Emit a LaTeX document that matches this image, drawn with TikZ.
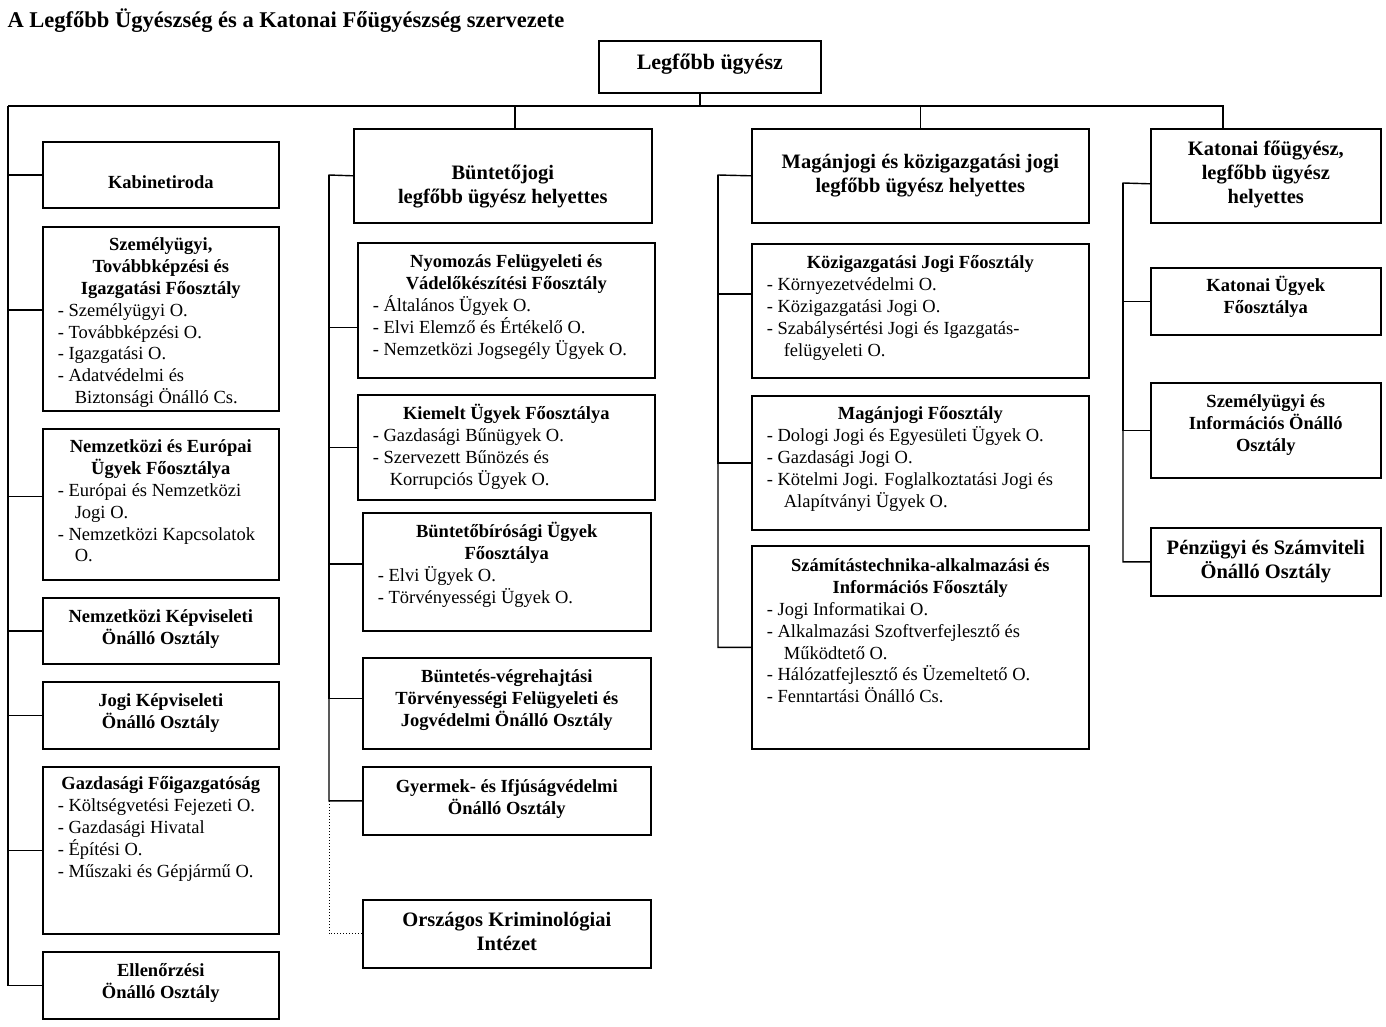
\documentclass[tikz,border=0pt]{standalone}
\usepackage{fontspec}
\setmainfont{Liberation Serif}

\tikzstyle{szerv-alap}=[rectangle,
                        draw=black,
                        line width=1.6pt,
                        inner sep=0pt,
                        anchor=north west,
                        font=\fontsize{18.5}{21.8}\selectfont
                       ]
\tikzstyle{nagy}=[szerv-alap,
                  font=\fontsize{20.5}{24}\selectfont]
\tikzstyle{vonal}=[line width=1.4pt]

\newcommand{\doboz}[3]{\parbox[c][#2pt][t]{#1pt}{\parskip=0pt #3}}
\newcommand{\fej}[2][25pt]{{\centering\bfseries\rule{0pt}{#1}#2\par}}
\newcommand{\lista}[1]{{\raggedright\leftskip=15pt #1\par}}
\newcommand{\foly}{\hspace*{17pt}}

\begin{document}
\begin{tikzpicture}[x=1pt, y=-1pt]
\useasboundingbox (0,0) rectangle (1386,1026);

\node at (4, 27) (cim) [anchor=base west, font=\fontsize{22.5}{26}\selectfont\bfseries] {A Legfőbb Ügyészség és a Katonai Főügyészség szervezete};

\node at (598, 40) (legfobb) [szerv-alap, font=\fontsize{22}{26}\selectfont] {\doboz{222}{52}{\fej[29pt]{Legfőbb ügyész}}};

% bal oszlop
\node at (42, 141) (kabinet) [szerv-alap] {\doboz{236}{66}{\fej[47pt]{Kabinetiroda}}};
\node at (42, 226) (szemely) [szerv-alap] {\doboz{236}{184}{\fej[24pt]{Személyügyi,\\ Továbbképzési és\\ Igazgatási Főosztály}
  \lista{- Személyügyi O.\\ - Továbbképzési O.\\ - Igazgatási O.\\ - Adatvédelmi és\\ \foly Biztonsági Önálló Cs.}}};
\node at (42, 428) (nemzeteu) [szerv-alap] {\doboz{236}{151}{\fej[24pt]{Nemzetközi és Európai\\ Ügyek Főosztálya}
  \lista{- Európai és Nemzetközi\\ \foly Jogi O.\\ - Nemzetközi Kapcsolatok\\ \foly O.}}};
\node at (42, 597) (nemzkepv) [szerv-alap] {\doboz{236}{66}{\fej{Nemzetközi Képviseleti\\ Önálló Osztály}}};
\node at (42, 681) (jogikepv) [szerv-alap] {\doboz{236}{67}{\fej{Jogi Képviseleti\\ Önálló Osztály}}};
\node at (42, 766) (gazdasagi) [szerv-alap] {\doboz{236}{167}{\fej[23pt]{Gazdasági Főigazgatóság}
  \lista{- Költségvetési Fejezeti O.\\ - Gazdasági Hivatal\\ - Építési O.\\ - Műszaki és Gépjármű O.}}};
\node at (42, 951) (ellenorzesi) [szerv-alap] {\doboz{236}{67}{\fej{Ellenőrzési\\ Önálló Osztály}}};

% buntetojogi oszlop
\node at (353, 128) (buntetojogi) [nagy] {\doboz{298}{94}{\fej[51pt]{Büntetőjogi\\ legfőbb ügyész helyettes}}};
\node at (357, 242) (nyomozas) [szerv-alap] {\doboz{297}{135}{\fej{Nyomozás Felügyeleti és\\ Vádelőkészítési Főosztály}
  \lista{- Általános Ügyek O.\\ - Elvi Elemző és Értékelő O.\\ - Nemzetközi Jogsegély Ügyek O.}}};
\node at (357, 394) (kiemelt) [szerv-alap] {\doboz{297}{105}{\fej{Kiemelt Ügyek Főosztálya}
  \lista{- Gazdasági Bűnügyek O.\\ - Szervezett Bűnözés és\\ \foly Korrupciós Ügyek O.}}};
\node at (362, 512) (buntbir) [szerv-alap] {\doboz{288}{118}{\fej{Büntetőbírósági Ügyek\\ Főosztálya}
  \lista{- Elvi Ügyek O.\\ - Törvényességi Ügyek O.}}};
\node at (362, 657) (buntvegr) [szerv-alap] {\doboz{288}{91}{\fej{Büntetés-végrehajtási\\ Törvényességi Felügyeleti és\\ Jogvédelmi Önálló Osztály}}};
\node at (362, 766) (gyermek) [szerv-alap] {\doboz{288}{68}{\fej[26pt]{Gyermek- és Ifjúságvédelmi\\ Önálló Osztály}}};
\node at (362, 899) (orszagos) [nagy] {\doboz{288}{68}{\fej[27pt]{Országos Kriminológiai\\ Intézet}}};

% maganjogi oszlop
\node at (751, 128) (maganhely) [nagy] {\doboz{337}{94}{\fej[40pt]{Magánjogi és közigazgatási jogi\\ legfőbb ügyész helyettes}}};
\node at (751, 243) (kozig) [szerv-alap] {\doboz{337}{134}{\fej{Közigazgatási Jogi Főosztály}
  \lista{- Környezetvédelmi O.\\ - Közigazgatási Jogi O.\\ - Szabálysértési Jogi és Igazgatás-\\ \foly felügyeleti O.}}};
\node at (751, 395) (maganfo) [szerv-alap] {\doboz{337}{134}{\fej[24pt]{Magánjogi Főosztály}
  \lista{- Dologi Jogi és Egyesületi Ügyek O.\\ - Gazdasági Jogi O.\\ - Kötelmi Jogi. Foglalkoztatási Jogi és\\ \foly Alapítványi Ügyek O.}}};
\node at (751, 545) (szamtech) [szerv-alap] {\doboz{337}{203}{\fej[26pt]{Számítástechnika-alkalmazási és\\ Információs Főosztály}
  \lista{- Jogi Informatikai O.\\ - Alkalmazási Szoftverfejlesztő és\\ \foly Működtető O.\\ - Hálózatfejlesztő és Üzemeltető O.\\ - Fenntartási Önálló Cs.}}};

% katonai oszlop
\node at (1150, 128) (katonai) [nagy] {\doboz{230}{94}{\fej[27pt]{Katonai főügyész,\\ legfőbb ügyész\\ helyettes}}};
\node at (1150, 267) (katugyek) [szerv-alap] {\doboz{230}{67}{\fej[24pt]{Katonai Ügyek\\ Főosztálya}}};
\node at (1150, 382) (szemelyinf) [szerv-alap] {\doboz{230}{95}{\fej{Személyügyi és\\ Információs Önálló\\ Osztály}}};
\node at (1150, 527) (penzugyi) [nagy] {\doboz{230}{68}{\fej[27pt]{Pénzügyi és Számviteli\\ Önálló Osztály}}};

% gyujtovonal
\coordinate (bus_l) at (8, 106);
\coordinate (bus_r) at (1223, 106);
\coordinate (bus_top) at (700, 106);
\coordinate (bj_le) at (515, 106);
\draw[vonal] (bus_top) -- (bus_top |- legfobb.south);
\draw[vonal] (bus_l) -- (bus_r) -- (bus_r |- katonai.north);
\draw[vonal] (bj_le) -- (bj_le |- buntetojogi.north);
\draw[vonal] (maganhely.north) -- (maganhely.north |- bus_l);

\draw[vonal] (bus_l) |- (kabinet.west);
\draw[vonal] (bus_l) |- ([yshift=9pt]szemely.west);
\draw[vonal] (bus_l) |- ([yshift=8pt]nemzeteu.west);
\draw[vonal] (bus_l) |- (nemzkepv.west);
\draw[vonal] (bus_l) |- (jogikepv.west);
\draw[vonal] (bus_l) |- (gazdasagi.west);
\draw[vonal] (bus_l) |- (ellenorzesi.west);

\coordinate (bj_gerinc) at (329, 175);
\draw[vonal] (buntetojogi.west) -- (bj_gerinc) |- (gyermek.west);
\draw[vonal] (bj_gerinc) |- ([yshift=-17pt]nyomozas.west);
\draw[vonal] (bj_gerinc) |- (kiemelt.west);
\draw[vonal] (bj_gerinc) |- ([yshift=8pt]buntbir.west);
\draw[vonal] (bj_gerinc) |- ([yshift=5pt]buntvegr.west);
\draw[dotted, line width=1pt] (bj_gerinc |- gyermek.west) |- (orszagos.west);

\coordinate (mj_gerinc) at (718, 175);
\draw[vonal] (maganhely.west) -- (mj_gerinc) |- (szamtech.west);
\draw[vonal] (mj_gerinc) |- ([yshift=17pt]kozig.west);
\draw[vonal] (mj_gerinc) |- (maganfo.west);

\coordinate (kat_gerinc) at (1123, 183);
\draw[vonal] ([yshift=-8pt]katonai.west) -- (kat_gerinc) |- (penzugyi.west);
\draw[vonal] (kat_gerinc) |- (katugyek.west);
\draw[vonal] (kat_gerinc) |- (szemelyinf.west);

\end{tikzpicture}
\end{document}
